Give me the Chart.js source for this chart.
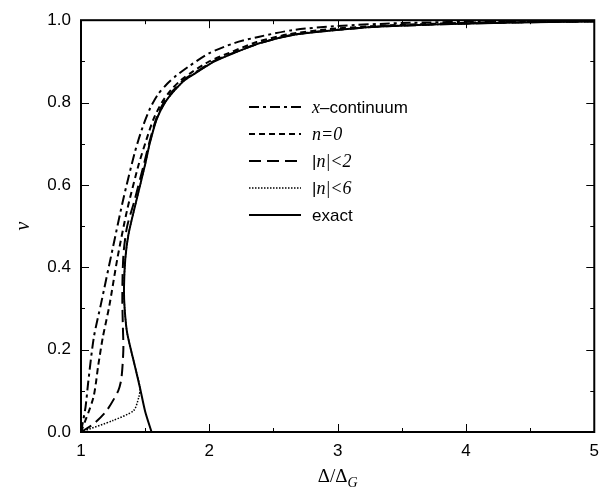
<!DOCTYPE html>
<html>
<head>
<meta charset="utf-8">
<script src="https://cdn.jsdelivr.net/npm/chart.js@4"></script>
<style>
  html, body { margin: 0; padding: 0; background: #fff; }
  #wrap { width: 608px; height: 493px; }
</style>
</head>
<body>
<div id="wrap"><canvas id="chart" width="608" height="493"></canvas></div>
<script>
// ---------------------------------------------------------------------------
// Data — x = Δ/Δ_G, v = ν
// ---------------------------------------------------------------------------

const xContV = [0, 0.06, 0.123, 0.23, 0.31, 0.45, 0.566, 0.68, 0.74, 0.787, 0.82, 0.845, 0.866, 0.89, 0.92, 0.945, 0.96, 0.976, 0.986, 0.993, 0.997, 0.999];
const xContX = [1.0, 1.035, 1.057, 1.10, 1.155, 1.25, 1.33, 1.42, 1.48, 1.54, 1.6, 1.67, 1.745, 1.85, 2.0, 2.2, 2.39, 2.65, 3.0, 3.5, 4.2, 5.0];

const n0V = [0, 0.083, 0.163, 0.23, 0.305, 0.424, 0.54, 0.65, 0.71, 0.76, 0.8, 0.83, 0.855, 0.875, 0.9, 0.92, 0.947, 0.966, 0.978, 0.986, 0.992, 0.996, 0.998];
const n0X = [1.0, 1.096, 1.135, 1.17, 1.22, 1.285, 1.36, 1.45, 1.51, 1.565, 1.63, 1.7, 1.78, 1.87, 2.0, 2.15, 2.37, 2.62, 2.92, 3.3, 3.8, 4.3, 5.0];

const n2V = [0, 0.02, 0.052, 0.1, 0.13, 0.2, 0.26, 0.32, 0.38, 0.44, 0.5, 0.56, 0.65, 0.70, 0.76, 0.8, 0.83, 0.855, 0.875, 0.9, 0.92, 0.945, 0.964, 0.975, 0.984, 0.99, 0.994, 0.997];
const n2X = [1.0, 1.10, 1.2, 1.29, 1.315, 1.33, 1.326, 1.322, 1.324, 1.333, 1.36, 1.415, 1.49, 1.53, 1.585, 1.645, 1.72, 1.8, 1.9, 2.03, 2.18, 2.4, 2.64, 2.94, 3.3, 3.8, 4.3, 5.0];

const n6V = [0, 0.028, 0.052, 0.084, 0.107, 0.16, 0.24, 0.3, 0.35, 0.42, 0.48, 0.56, 0.65, 0.70, 0.76, 0.8, 0.83, 0.855, 0.875, 0.9, 0.92, 0.945, 0.964, 0.975, 0.984, 0.99, 0.994, 0.997];
const n6X = [1.0, 1.25, 1.41, 1.45, 1.46, 1.42, 1.36, 1.34, 1.335, 1.345, 1.37, 1.43, 1.5, 1.535, 1.59, 1.655, 1.73, 1.81, 1.91, 2.04, 2.19, 2.4, 2.65, 2.95, 3.3, 3.8, 4.3, 5.0];

const exactV = [0, 0.05, 0.107, 0.16, 0.24, 0.3, 0.35, 0.42, 0.48, 0.56, 0.65, 0.70, 0.76, 0.8, 0.83, 0.855, 0.875, 0.9, 0.92, 0.945, 0.964, 0.975, 0.984, 0.99, 0.994, 0.997];
const exactX = [1.55, 1.50, 1.46, 1.42, 1.36, 1.34, 1.335, 1.345, 1.37, 1.43, 1.5, 1.535, 1.59, 1.655, 1.73, 1.81, 1.91, 2.04, 2.19, 2.4, 2.65, 2.95, 3.3, 3.8, 4.3, 5.0];

const xTicks = [1, 2, 3, 4, 5];
const yTicks = [0, 0.2, 0.4, 0.6, 0.8, 1.0];

function pts(xs, vs) {
    return xs.map((x, i) => ({ x, y: vs[i] }));
}

// ---------------------------------------------------------------------------
// Frame, inward ticks, axis titles and legend
// ---------------------------------------------------------------------------

const framePlugin = {
    id: "frame",
    afterDraw(chart) {
        const { ctx, chartArea: a, scales } = chart;
        const sx = scales.x, sy = scales.y;
        ctx.save();
        ctx.strokeStyle = "#000";

        // ticks (inward on all sides)
        ctx.lineWidth = 1;
        for (let v = 1; v <= 5.001; v += 0.5) {
            const px = Math.round(sx.getPixelForValue(v)) + 0.5;
            const len = Math.abs(v - Math.round(v)) < 1e-6 ? 8 : 4;
            ctx.beginPath();
            ctx.moveTo(px, a.bottom); ctx.lineTo(px, a.bottom - len);
            ctx.moveTo(px, a.top); ctx.lineTo(px, a.top + len);
            ctx.stroke();
        }
        for (let i = 0; i <= 10; i++) {
            const v = i / 10;
            const py = Math.round(sy.getPixelForValue(v)) + 0.5;
            const len = i % 2 === 0 ? 8 : 4;
            ctx.beginPath();
            ctx.moveTo(a.left, py); ctx.lineTo(a.left + len, py);
            ctx.moveTo(a.right, py); ctx.lineTo(a.right - len, py);
            ctx.stroke();
        }

        // frame
        ctx.lineWidth = 2;
        ctx.strokeRect(a.left, a.top, a.right - a.left, a.bottom - a.top);

        // x title: Δ/Δ_G
        ctx.fillStyle = "#000";
        ctx.textBaseline = "alphabetic";
        ctx.font = "19px 'Liberation Serif'";
        const main = "\u0394/\u0394";
        const w1 = ctx.measureText(main).width;
        ctx.font = "italic 14px 'Liberation Serif'";
        const w2 = ctx.measureText("G").width;
        const cx = (a.left + a.right) / 2;
        const x0 = cx - (w1 + w2) / 2;
        ctx.font = "19px 'Liberation Serif'";
        ctx.fillText(main, x0, 482);
        ctx.font = "italic 14px 'Liberation Serif'";
        ctx.fillText("G", x0 + w1, 487);

        // y title: ν (rotated)
        ctx.save();
        ctx.translate(24, (a.top + a.bottom) / 2);
        ctx.rotate(-Math.PI / 2);
        ctx.textAlign = "center";
        ctx.textBaseline = "middle";
        ctx.font = "italic 20px 'Liberation Serif'";
        ctx.fillText("\u03bd", 0, 0);
        ctx.restore();

        // legend
        const rowY = [107, 134, 161, 188, 215];
        const lx0 = 249, lx1 = 301, tx = 312;
        chart.data.datasets.forEach((ds, i) => {
            const y = rowY[i];
            ctx.beginPath();
            ctx.lineWidth = ds.borderWidth;
            ctx.setLineDash(ds.borderDash || []);
            ctx.moveTo(lx0, y); ctx.lineTo(lx1, y);
            ctx.stroke();
            ctx.setLineDash([]);
            let x = tx;
            ds.legendParts.forEach(([txt, font]) => {
                ctx.font = font;
                ctx.textBaseline = "middle";
                ctx.fillText(txt, x, y + 1);
                x += ctx.measureText(txt).width;
            });
        });
        ctx.restore();
    }
};

const sans = "17px 'Liberation Sans'";
const ital = "italic 18px 'Liberation Serif'";

function ds(label, data, dash, width, parts) {
    return {
        label, data,
        borderColor: "#000",
        backgroundColor: "#000",
        borderWidth: width,
        borderDash: dash,
        pointRadius: 0,
        showLine: true,
        tension: 0.25,
        fill: false,
        legendParts: parts,
    };
}

new Chart(document.getElementById("chart").getContext("2d"), {
    type: "scatter",
    data: {
        datasets: [
            ds("x-continuum", pts(xContX, xContV), [10, 4, 3, 4], 2, [["x", ital], ["\u2013continuum", sans]]),
            ds("n=0", pts(n0X, n0V), [6, 4], 2, [["n=0", ital]]),
            ds("|n|<2", pts(n2X, n2V), [12, 6], 2, [["|", sans], ["n", ital], ["|<2", ital]]),
            ds("|n|<6", pts(n6X, n6V), [1.5, 1.5], 1.5, [["|", sans], ["n", ital], ["|<6", ital]]),
            ds("exact", pts(exactX, exactV), [], 2, [["exact", sans]]),
        ],
    },
    options: {
        responsive: false,
        animation: false,
        layout: { padding: { top: 10, right: 13, left: 0, bottom: 0 } },
        plugins: { legend: { display: false }, tooltip: { enabled: false } },
        scales: {
            x: {
                type: "linear",
                min: 1, max: 5,
                afterBuildTicks: (s) => { s.ticks = xTicks.map((v) => ({ value: v })); },
                afterFit: (s) => { s.height = 61; },
                grid: { display: false, drawTicks: false },
                border: { display: false },
                ticks: { color: "#000", font: { family: "'Liberation Sans'", size: 17 }, padding: 9, callback: (v) => String(v) },
            },
            y: {
                type: "linear",
                min: 0, max: 1,
                afterBuildTicks: (s) => { s.ticks = yTicks.map((v) => ({ value: v })); },
                afterFit: (s) => { s.width = 81; },
                grid: { display: false, drawTicks: false },
                border: { display: false },
                ticks: { color: "#000", font: { family: "'Liberation Sans'", size: 17 }, padding: 10, callback: (v) => v.toFixed(1) },
            },
        },
    },
    plugins: [framePlugin],
});
</script>
</body>
</html>
